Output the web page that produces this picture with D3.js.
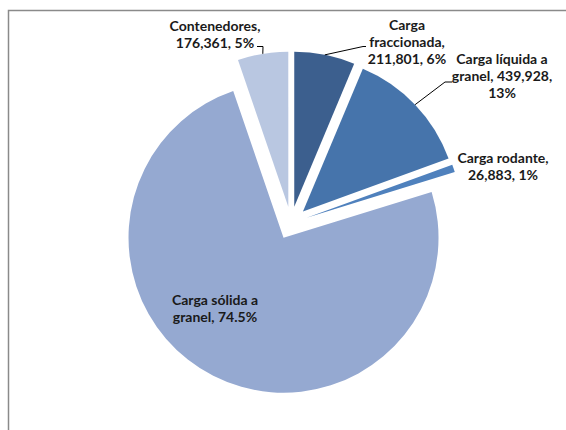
<!DOCTYPE html>
<html>
<head>
<meta charset="utf-8">
<script src="https://cdn.jsdelivr.net/npm/d3@7/dist/d3.min.js"></script>
<style>
  html, body { margin: 0; padding: 0; background: #fff; }
  svg { display: block; }
  .lbl { font-family: Lato, "Open Sans", sans-serif; font-weight: 700; font-size: 14px; fill: #1a1a1a; }
</style>
</head>
<body>
<svg id="chart" width="566" height="430"></svg>
<script>
// Cargo categories, clockwise from 12 o'clock
const categories = ["Carga fraccionada", "Carga líquida a granel", "Carga rodante", "Carga sólida a granel", "Contenedores"];
// Tonnage per category
const tonnes = [211801, 439928, 26883, 2497800, 176361];
// Whether each label shows the tonnage, and its percent precision
const showValue = [true, true, true, false, true];
const pctDigits = [0, 0, 0, 1, 0];
// Label line breaks (text per line)
const labelLines = [
  ["Carga", "fraccionada,", "{v}, {p}"],
  ["Carga líquida a", "granel, {v},", "{p}"],
  ["Carga rodante,", "{v}, {p}"],
  ["Carga sólida a", "granel, {p}"],
  ["Contenedores,", "{v}, {p}"]
];
const colors = ["#3c5f8e", "#4674ab", "#4f81bd", "#95a9d1", "#b9c7e1"];

// Layout
const W = 566, H = 430;
const cx = 291, cy = 223, R = 155, explode = 16.5;
// label anchor (centre x, first baseline y) and leader elbow per slice
const labelPos = [[407, 30], [502, 64], [503, 163], [215, 305], [215, 30.5]];
const lineH = 17;
const leaderElbow = [[[363, 46.5], [366, 46.5]], [[445, 82], [452, 82]], null, null, [[263, 46.5], [257, 46.5]]];

const svg = d3.select("#chart");

// outer frame (only left and top edges fall inside the view)
svg.append("path")
  .attr("d", `M8.5,${H} V10.5 H${W}`)
  .attr("fill", "none").attr("stroke", "#8a8a8a").attr("stroke-width", 1.5);

const total = d3.sum(tonnes);
const pie = d3.pie().sort(null).value(d => d)(tonnes);
const arc = d3.arc().innerRadius(0).outerRadius(R);

const g = svg.append("g").attr("transform", `translate(${cx},${cy})`);

function offset(d) {
  const a = (d.startAngle + d.endAngle) / 2;
  return [explode * Math.sin(a), -explode * Math.cos(a)];
}

g.selectAll("path.slice").data(pie).join("path")
  .attr("class", "slice")
  .attr("d", arc)
  .attr("fill", (d, i) => colors[i])
  .attr("transform", d => { const o = offset(d); return `translate(${o[0]},${o[1]})`; });

// leader lines: from the arc midpoint of each exploded slice to the label
const fmtV = d3.format(",");
pie.forEach((d, i) => {
  if (!leaderElbow[i]) return;
  const a = (d.startAngle + d.endAngle) / 2;
  const o = offset(d);
  const p0 = [cx + o[0] + R * Math.sin(a), cy + o[1] - R * Math.cos(a)];
  const pts = [p0, ...leaderElbow[i]];
  svg.append("path")
    .attr("d", d3.line()(pts))
    .attr("fill", "none").attr("stroke", "#000").attr("stroke-width", 1);
});

// data labels
pie.forEach((d, i) => {
  const pct = d3.format(`.${pctDigits[i]}%`)(tonnes[i] / total);
  const lines = labelLines[i].map(s => s.replace("{v}", fmtV(tonnes[i])).replace("{p}", pct));
  const t = svg.append("text").attr("class", "lbl").attr("text-anchor", "middle");
  lines.forEach((s, k) => {
    t.append("tspan").attr("x", labelPos[i][0]).attr("y", labelPos[i][1] + k * lineH).text(s);
  });
});
</script>
</body>
</html>
